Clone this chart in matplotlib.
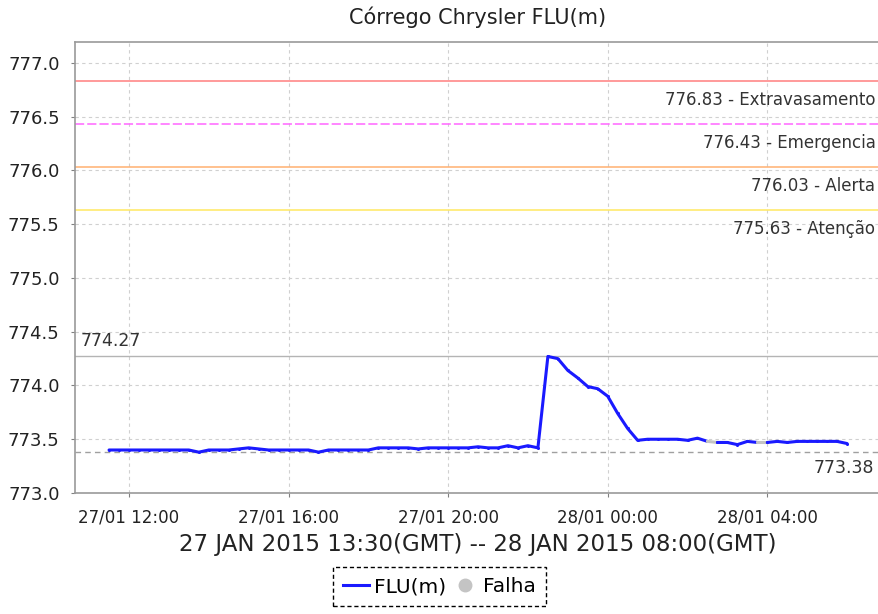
import matplotlib
matplotlib.use('Agg')
import matplotlib.pyplot as plt
import matplotlib.dates as mdates
from matplotlib.lines import Line2D
from matplotlib.ticker import FormatStrFormatter
import numpy as np
import pandas as pd

plt.rcParams['font.family'] = ['DejaVu Sans']

# hours after 27/01/2015 00:00 (local), sampled every 15 minutes
hours = list(np.arange(11.5, 30.01, 0.25))
levels = [
    773.40, 773.40, 773.40, 773.40, 773.40, 773.40, 773.40, 773.40,   # 11:30 - 13:15
    773.40, 773.38, 773.40, 773.40, 773.40, 773.41, 773.42, 773.41,   # 13:30 - 15:15
    773.40, 773.40, 773.40, 773.40, 773.40, 773.38, 773.40, 773.40,   # 15:30 - 17:15
    773.40, 773.40, 773.40, 773.42, 773.42, 773.42, 773.42, 773.41,   # 17:30 - 19:15
    773.42, 773.42, 773.42, 773.42, 773.42, 773.43, 773.42, 773.42,   # 19:30 - 21:15
    773.44, 773.42, 773.44, 773.42, 774.27, 774.25, 774.14, 774.07,   # 21:30 - 23:15
    773.99, 773.97, 773.90, 773.74, 773.60, 773.49, 773.50, 773.50,   # 23:30 - 01:15
    773.50, 773.50, 773.49, 773.51, 773.48, 773.47, 773.47, 773.45,   # 01:30 - 03:15
    773.48, 773.47, 773.47, 773.48, 773.47, 773.48, 773.48, 773.48,   # 03:30 - 05:15
    773.48, 773.48, 773.46,                                           # 05:30 - 06:00
]
# stretches where the sensor failed (hours)
falha = [(26.5, 26.75), (27.75, 28.0)]

thresholds = [776.83, 776.43, 776.03, 775.63]
threshold_names = ['Extravasamento', 'Emergencia', 'Alerta', 'Atenção']
threshold_colors = ['#ff7f7f', '#ff66ff', '#ffb070', '#ffe860']
threshold_styles = ['-', (0, (6, 2)), '-', '-']

base = pd.Timestamp('2015-01-27')
t = base + pd.to_timedelta(hours, unit='h')
v = np.array(levels)
vmax, vmin = 774.27, 773.38

fig = plt.figure(figsize=(8.79, 6.14), dpi=100)
ax = fig.add_axes([75 / 879, 1 - 493 / 614, 806 / 879, 451 / 614])

# split the series into runs of normal / failed segments
seg_bad = [any(a <= hours[i] and hours[i + 1] <= b for a, b in falha) for i in range(len(hours) - 1)]
i = 0
while i < len(seg_bad):
    j = i
    while j < len(seg_bad) and seg_bad[j] == seg_bad[i]:
        j += 1
    col = '#c4c4c4' if seg_bad[i] else '#1a1aff'
    ax.plot(t[i:j + 1], v[i:j + 1], color=col, lw=2.2, marker='o', ms=2.2,
            markeredgewidth=0, solid_capstyle='round', zorder=3)
    i = j

for val, name, c, ls in zip(thresholds, threshold_names, threshold_colors, threshold_styles):
    ax.axhline(val, color=c, lw=1.1, linestyle=ls, zorder=2)
    ax.annotate('{:.2f} - {}'.format(val, name), xy=(1, val), xycoords=('axes fraction', 'data'),
                xytext=(-4, -7), textcoords='offset points', ha='right', va='top',
                fontsize=12, color='#333333')

ax.axhline(vmax, color='#b4b4b4', lw=1.0, zorder=2)
ax.annotate('{:.2f}'.format(vmax), xy=(0, vmax), xycoords=('axes fraction', 'data'),
            xytext=(4, 5), textcoords='offset points', ha='left', va='bottom',
            fontsize=12.5, color='#333333')
ax.axhline(vmin, color='#a0a0a0', lw=1.0, linestyle=(0, (4, 3)), zorder=2)
ax.annotate('{:.2f}'.format(vmin), xy=(1, vmin), xycoords=('axes fraction', 'data'),
            xytext=(-5, -5), textcoords='offset points', ha='right', va='top',
            fontsize=12.5, color='#333333')

ax.set_ylim(773.0, 777.195)
ax.set_xlim(base + pd.Timedelta(hours=10.647), base + pd.Timedelta(hours=30.85))
ax.set_yticks(np.arange(773.0, 777.01, 0.5))
ax.yaxis.set_major_formatter(FormatStrFormatter('%.1f'))
ax.xaxis.set_major_locator(mdates.HourLocator(byhour=[0, 4, 8, 12, 16, 20]))
ax.xaxis.set_major_formatter(mdates.DateFormatter('%d/%m %H:%M'))
ax.tick_params(axis='y', labelsize=13, length=3, color='#808080', labelcolor='#222222', pad=8)
ax.tick_params(axis='x', labelsize=12, length=3, color='#808080', labelcolor='#222222', pad=8)

ax.grid(True, color='#d0d0d0', lw=0.8, linestyle=(0, (3, 3)), zorder=0)
for s in ax.spines.values():
    s.set_color('#9a9a9a')
    s.set_linewidth(1.2)
ax.spines['right'].set_visible(False)

ax.set_title('Córrego Chrysler FLU(m)', fontsize=15, color='#222222', pad=13)
ax.set_xlabel('27 JAN 2015 13:30(GMT) -- 28 JAN 2015 08:00(GMT)', fontsize=16.5, color='#222222', labelpad=5)

handles = [Line2D([], [], color='#1a1aff', lw=2.2),
           Line2D([], [], color='#c4c4c4', marker='o', ms=9, lw=0)]
leg = fig.legend(handles, ['FLU(m)', 'Falha'], loc='lower center', bbox_to_anchor=(0.5, -0.004),
                 fontsize=14.5, fancybox=False, edgecolor='black', framealpha=1,
                 ncol=2, handlelength=1.3, handletextpad=0.25, columnspacing=0.3, borderpad=0.5)
leg.get_frame().set_linestyle((0, (3, 2)))
leg.get_frame().set_linewidth(1.0)

fig.savefig('out.png', dpi=100)
